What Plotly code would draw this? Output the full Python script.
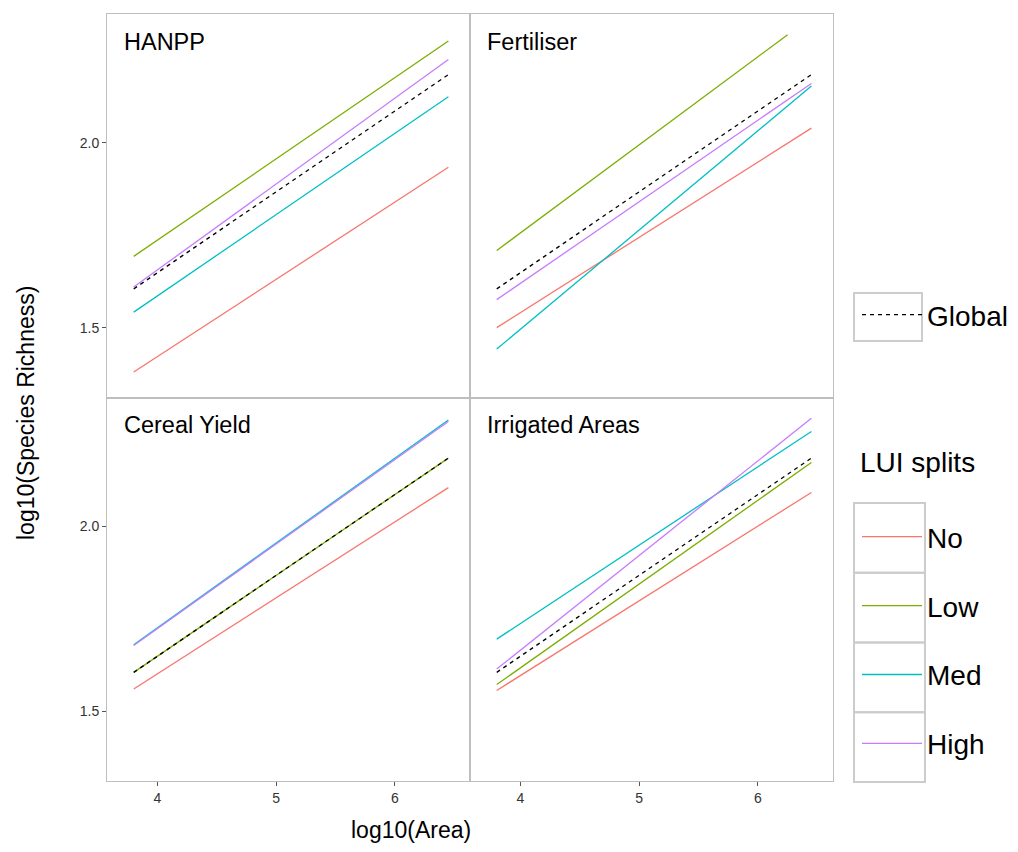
import plotly.graph_objects as go
from plotly.subplots import make_subplots

# ---- data ----
panels = ["HANPP", "Fertiliser", "Cereal Yield", "Irrigated Areas"]
splits = ["No", "Low", "Med", "High"]
split_colors = ["#F8766D", "#7CAE00", "#00BFC4", "#C77CFF"]

area_start = 3.8
# end of the fitted area range, per panel, per split (No, Low, Med, High)
hanpp_area_end = [6.45, 6.45, 6.45, 6.45]
fert_area_end = [6.45, 6.25, 6.45, 6.45]
cereal_area_end = [6.45, 6.45, 6.45, 6.45]
irrig_area_end = [6.45, 6.45, 6.45, 6.45]

# log10(Species Richness) at start / end of each line (No, Low, Med, High)
hanpp_start = [1.380, 1.693, 1.542, 1.610]
hanpp_end = [1.934, 2.276, 2.125, 2.226]
fert_start = [1.500, 1.709, 1.442, 1.576]
fert_end = [2.040, 2.293, 2.154, 2.161]
cereal_start = [1.560, 1.605, 1.680, 1.678]
cereal_end = [2.105, 2.185, 2.288, 2.284]
irrig_start = [1.556, 1.572, 1.695, 1.614]
irrig_end = [2.092, 2.173, 2.257, 2.293]

global_area = [3.8, 6.45]
global_rich = [1.605, 2.185]

x_ticks = [4, 5, 6]
y_ticks = [1.5, 2.0]
y_tick_labels = ["1.5", "2.0"]

panel_area_end = [hanpp_area_end, fert_area_end, cereal_area_end, irrig_area_end]
panel_start = [hanpp_start, fert_start, cereal_start, irrig_start]
panel_end = [hanpp_end, fert_end, cereal_end, irrig_end]
positions = [(1, 1), (1, 2), (2, 1), (2, 2)]

FONT = "Liberation Sans, Arial, sans-serif"
PAGE_OFF = 8  # browser default body margin
W, H = 1018 - PAGE_OFF, 852 - PAGE_OFF
# plot area in screen pixels
SX0, SX1, SY0, SY1 = 107, 833, 14, 781
ML, MT = SX0 - PAGE_OFF, SY0 - PAGE_OFF
MR, MB = 1018 - SX1, 852 - SY1
PW, PH = SX1 - SX0, SY1 - SY0


def px(x):
    return (x - SX0) / PW


def py(y):
    return (SY1 - y) / PH


fig = make_subplots(rows=2, cols=2, shared_xaxes=True, shared_yaxes=True,
                    horizontal_spacing=0, vertical_spacing=0)

for p, (r, c) in enumerate(positions):
    for s, name in enumerate(splits):
        fig.add_trace(go.Scatter(
            x=[area_start, panel_area_end[p][s]],
            y=[panel_start[p][s], panel_end[p][s]],
            mode="lines", name=name,
            line=dict(color=split_colors[s], width=1.3),
            legend="legend2", legendgroup=name,
            showlegend=(p == 0),
        ), row=r, col=c)
    fig.add_trace(go.Scatter(
        x=global_area, y=global_rich, mode="lines", name="Global",
        line=dict(color="black", width=1.3, dash="4px,4px"),
        legend="legend", legendgroup="Global", showlegend=(p == 0),
    ), row=r, col=c)

    fig.add_annotation(text=panels[p], xref="x domain" if p == 0 else f"x{p+1} domain",
                       yref="y domain" if p == 0 else f"y{p+1} domain",
                       x=0.042, y=0.927, xanchor="left", yanchor="middle",
                       showarrow=False, font=dict(family=FONT, size=23.5, color="black"))

axis_common = dict(showgrid=False, zeroline=False, showline=True, mirror=True,
                   linecolor="#BEBEBE", linewidth=1, ticklen=4,
                   tickcolor="#555555", tickfont=dict(family=FONT, size=14, color="#333333"))
fig.update_xaxes(range=[3.575, 6.632], tickvals=x_ticks, **axis_common)
fig.update_yaxes(range=[1.311, 2.349], tickvals=y_ticks, ticktext=y_tick_labels, **axis_common)
# ticks only on the outer edges
fig.update_xaxes(ticks="outside", row=2)
fig.update_xaxes(ticks="", row=1)
fig.update_yaxes(ticks="outside", col=1)
fig.update_yaxes(ticks="", col=2)

# axis titles
fig.add_annotation(text="log10(Area)", xref="paper", yref="paper", x=px(411), y=py(830),
                   xanchor="center", yanchor="middle", showarrow=False,
                   font=dict(family=FONT, size=23, color="black"))
fig.add_annotation(text="log10(Species Richness)", xref="paper", yref="paper", x=px(26), y=py(413),
                   xanchor="center", yanchor="middle", showarrow=False, textangle=-90,
                   font=dict(family=FONT, size=23, color="black"))
# legend title for the LUI splits
fig.add_annotation(text="LUI splits", xref="paper", yref="paper", x=px(858), y=py(463),
                   xanchor="left", yanchor="middle", showarrow=False,
                   font=dict(family=FONT, size=28, color="black"))

# legend key boxes
box_style = dict(type="rect", xref="paper", yref="paper", line=dict(color="#CCCCCC", width=2),
                 fillcolor="rgba(0,0,0,0)", layer="below")
fig.add_shape(x0=px(854), x1=px(922), y0=py(293), y1=py(341), **box_style)
for k in range(4):
    top = 503 + k * 69.75
    fig.add_shape(x0=px(854), x1=px(925), y0=py(top), y1=py(top + 69.75), **box_style)

fig.update_layout(
    width=W, height=H,
    margin=dict(l=ML, r=MR, t=MT, b=MB, autoexpand=False),
    plot_bgcolor="white", paper_bgcolor="white",
    font=dict(family=FONT, size=20, color="black"),
    legend=dict(x=px(857), y=py(290), xanchor="left", yanchor="top",
                font=dict(family=FONT, size=28), itemwidth=60,
                bgcolor="rgba(0,0,0,0)", traceorder="grouped"),
    legend2=dict(x=px(857), y=py(512), xanchor="left", yanchor="top",
                 font=dict(family=FONT, size=28), itemwidth=60,
                 traceorder="grouped", tracegroupgap=29.5,
                 bgcolor="rgba(0,0,0,0)"),
)

fig.write_html("out.html")
